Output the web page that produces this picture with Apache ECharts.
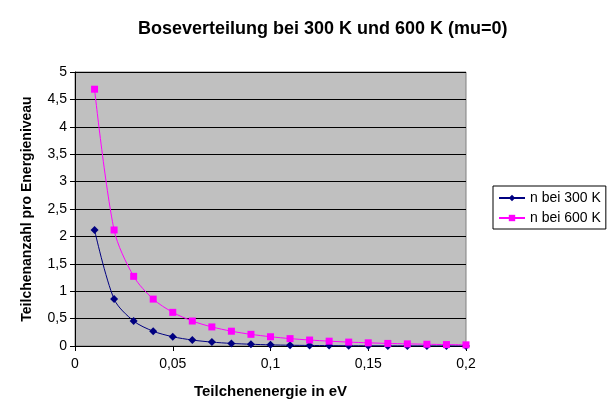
<!DOCTYPE html>
<html><head><meta charset="utf-8">
<script src="https://cdn.jsdelivr.net/npm/echarts@6/dist/echarts.min.js"></script>
<style>html,body{margin:0;padding:0;background:#fff}#c{width:611px;height:419px}</style>
</head><body><div id="c"></div>
<script>
var energies = [0.01,0.02,0.03,0.04,0.05,0.06,0.07,0.08,0.09,0.10,0.11,0.12,0.13,0.14,0.15,0.16,0.17,0.18,0.19,0.20];
var n300 = [2.117,0.856,0.456,0.270,0.169,0.109,0.071,0.047,0.032,0.021,0.014,0.010,0.007,0.004,0.003,0.002,0.0014,0.001,0.0006,0.0004];
var n600 = [4.686,2.117,1.271,0.856,0.614,0.456,0.348,0.270,0.213,0.169,0.135,0.109,0.088,0.071,0.058,0.047,0.039,0.032,0.026,0.021];
var seriesNames = ['n bei 300 K','n bei 600 K'];
function pairs(ys){return energies.map(function(x,i){return [x,ys[i]];});}
var font = '"Liberation Sans", Arial, sans-serif';
function fmt(v){return String(v).replace('.',',');}
var chart = echarts.init(document.getElementById('c'));
chart.setOption({
  animation:false,
  backgroundColor:'#fff',
  title:{text:'Boseverteilung bei 300 K und 600 K (mu=0)',left:133,top:15,
    textStyle:{fontFamily:font,fontSize:18,fontWeight:'bold',color:'#000'}},
  grid:{left:75,right:145,top:72,bottom:73,show:true,backgroundColor:'#C0C0C0',borderColor:'#808080',borderWidth:1},
  legend:{orient:'vertical',left:493,top:186,itemGap:6,itemWidth:26,itemHeight:8,
    padding:[5,5,4,5],borderColor:'#000',borderWidth:1,backgroundColor:'#fff',
    textStyle:{fontFamily:font,fontSize:14,color:'#000'},data:seriesNames},
  xAxis:{type:'value',min:0,max:0.2,interval:0.05,
    name:'Teilchenenergie in eV',nameLocation:'middle',nameGap:38,
    nameTextStyle:{fontFamily:font,fontSize:15,fontWeight:'bold',color:'#000'},
    axisLine:{lineStyle:{color:'#000'}},axisTick:{show:true,length:5,lineStyle:{color:'#000'}},
    axisLabel:{fontFamily:font,fontSize:14,color:'#000',margin:11,formatter:fmt},
    splitLine:{show:false}},
  yAxis:{type:'value',min:0,max:5,interval:0.5,
    name:'Teilchenanzahl pro Energieniveau',nameLocation:'middle',nameGap:41,
    nameTextStyle:{fontFamily:font,fontSize:14,fontWeight:'bold',color:'#000'},
    axisLine:{show:true,lineStyle:{color:'#000'}},axisTick:{show:true,length:5,lineStyle:{color:'#000'}},
    axisLabel:{fontFamily:font,fontSize:14,color:'#000',margin:8,formatter:fmt},
    splitLine:{show:true,lineStyle:{color:'#000',width:1}}},
  series:[
    {name:seriesNames[0],type:'line',data:pairs(n300),smooth:0.3,symbol:'diamond',symbolSize:8,
      itemStyle:{color:'#000080'},lineStyle:{color:'#000080',width:1}},
    {name:seriesNames[1],type:'line',data:pairs(n600),smooth:0.3,symbol:'rect',symbolSize:7,
      itemStyle:{color:'#FF00FF'},lineStyle:{color:'#FF00FF',width:1}}
  ]
});
</script></body></html>
